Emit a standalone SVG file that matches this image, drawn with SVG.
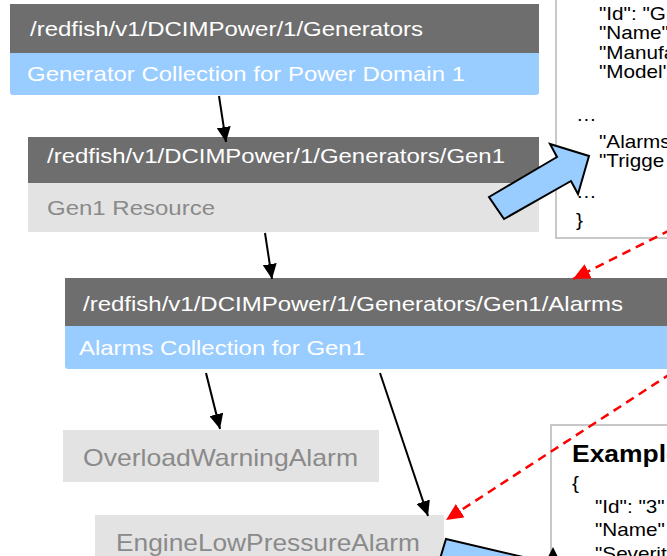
<svg xmlns="http://www.w3.org/2000/svg" width="667" height="556" viewBox="0 0 667 556">
<style>
.dark{fill:#6e6e6e}
.blue{fill:#99ccff}
.gray{fill:#e3e3e3}
.hdr{font-family:"Liberation Sans",Arial,sans-serif;font-size:21px;fill:#ffffff}
.sub{font-family:"Liberation Sans",Arial,sans-serif;font-size:21px;fill:#ffffff}
.gtxt{font-family:"Liberation Sans",Arial,sans-serif;font-size:21px;fill:#8a8a8a}
.atxt{font-family:"Liberation Sans",Arial,sans-serif;font-size:24px;fill:#8a8a8a}
.json{font-family:"Liberation Sans",Arial,sans-serif;font-size:18px;fill:#000000}
.jbold{font-family:"Liberation Sans",Arial,sans-serif;font-size:23px;font-weight:bold;fill:#000000}
.jbox{fill:#ffffff;stroke:#c8c8c8;stroke-width:2}
.blk{stroke:#000000;stroke-width:2;fill:none}
.red{stroke:#ff0000;stroke-width:2.5;fill:none;stroke-dasharray:9,6}
.block{fill:#99ccff;stroke:#000000;stroke-width:2;stroke-linejoin:miter}
</style>
<defs>
<marker id="ah" markerUnits="userSpaceOnUse" markerWidth="16" markerHeight="14" refX="15" refY="7" orient="auto">
<path d="M0,0 L15,7 L0,14 z" fill="#000000"/>
</marker>
<marker id="ahr" markerUnits="userSpaceOnUse" markerWidth="18" markerHeight="16" refX="17" refY="8" orient="auto">
<path d="M0,0 L17,8 L0,16 z" fill="#ff0000"/>
</marker>
</defs>
<rect x="0" y="0" width="667" height="556" fill="#ffffff"/>

<g id="json-gen1">
<rect class="jbox" x="556" y="-10" width="130" height="248"/>
<g transform="translate(576,0) scale(1.15,1)">
<text class="json" x="20" y="20">"Id": "G</text>
<text class="json" x="20" y="39">"Name"</text>
<text class="json" x="20" y="59">"Manufa</text>
<text class="json" x="20" y="78">"Model"</text>
<text class="json" x="0" y="121">…</text>
<text class="json" x="20" y="148">"Alarms</text>
<text class="json" x="20" y="167">"Trigge</text>
<text class="json" x="0" y="198">…</text>
<text class="json" x="0" y="226">}</text>
</g>
</g>

<g id="json-alarm">
<rect class="jbox" x="551" y="425" width="130" height="150"/>
<g transform="translate(572,0) scale(1.15,1)">
<text class="jbold" x="0" y="462">Example</text>
<text class="json" x="0" y="489">{</text>
<text class="json" x="20" y="513">"Id": "3"</text>
<text class="json" x="20" y="536">"Name"</text>
<text class="json" x="20" y="560">"Severit</text>
</g>
</g>

<g id="n-generators">
<rect class="blue" x="10" y="48" width="529" height="47" rx="3"/>
<rect class="dark" x="10" y="4" width="529" height="49"/>
<text class="hdr" x="30" y="36" textLength="393" lengthAdjust="spacingAndGlyphs">/redfish/v1/DCIMPower/1/Generators</text>
<text class="sub" x="27" y="81" textLength="438" lengthAdjust="spacingAndGlyphs">Generator Collection for Power Domain 1</text>
</g>

<g id="n-gen1">
<rect class="dark" x="28" y="137" width="511" height="46"/>
<rect class="gray" x="28" y="183" width="511" height="49"/>
<text class="hdr" x="47" y="163" textLength="458" lengthAdjust="spacingAndGlyphs">/redfish/v1/DCIMPower/1/Generators/Gen1</text>
<text class="gtxt" x="47" y="215" textLength="168" lengthAdjust="spacingAndGlyphs">Gen1 Resource</text>
</g>

<g id="n-alarms">
<rect class="blue" x="65" y="320" width="620" height="49" rx="3"/>
<rect class="dark" x="65" y="278" width="620" height="48"/>
<text class="hdr" x="83" y="311" textLength="540" lengthAdjust="spacingAndGlyphs">/redfish/v1/DCIMPower/1/Generators/Gen1/Alarms</text>
<text class="sub" x="79" y="355" textLength="286" lengthAdjust="spacingAndGlyphs">Alarms Collection for Gen1</text>
</g>

<g id="n-overload">
<rect class="gray" x="63" y="430" width="316" height="52"/>
<text class="atxt" x="83" y="466" textLength="275" lengthAdjust="spacingAndGlyphs">OverloadWarningAlarm</text>
</g>

<g id="n-engine">
<rect class="gray" x="95" y="515" width="349" height="50"/>
<text class="atxt" x="116" y="551" textLength="304" lengthAdjust="spacingAndGlyphs">EngineLowPressureAlarm</text>
</g>

<g id="connectors">
<line class="blk" x1="219" y1="96" x2="226" y2="142" marker-end="url(#ah)"/>
<line class="blk" x1="265" y1="233" x2="272" y2="279" marker-end="url(#ah)"/>
<line class="blk" x1="206" y1="373" x2="220" y2="429" marker-end="url(#ah)"/>
<line class="blk" x1="380" y1="373" x2="428" y2="516" marker-end="url(#ah)"/>
<line class="red" x1="684" y1="223" x2="573" y2="279" marker-end="url(#ahr)"/>
<line class="red" x1="684" y1="365" x2="446" y2="520" marker-end="url(#ahr)"/>
<polygon class="block" points="489,197 557,157 550,144 589,156 578,194 571,181 504,219"/>
<polygon class="block" points="446,539 570,568 550,600 436,572"/>
<polygon points="548,557 553,547 558,557" fill="#000000"/>
</g>
</svg>
